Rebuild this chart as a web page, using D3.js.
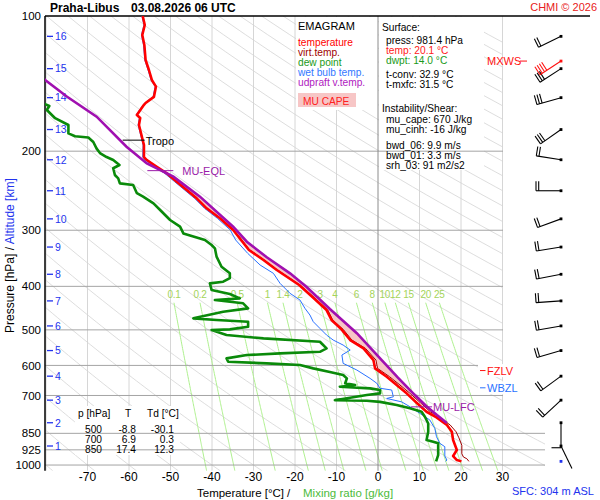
<!DOCTYPE html>
<html><head><meta charset="utf-8">
<script src="https://cdn.jsdelivr.net/npm/d3@7"></script>
<style>body{margin:0;background:#fff;} svg{font-family:"Liberation Sans",Arial,sans-serif;}</style>
</head><body><svg id="c" width="600" height="500"></svg>
<script>
// ---------------- DATA ----------------
const tempProfile = [[100,-56.7],[104.7,-56.2],[110.2,-56.8],[116,-56.3],[125.3,-56.0],[131.9,-55.2],[138.8,-54.5],[143.6,-53.5],[151.4,-54.0],[156.2,-56.0],[158.6,-56.6],[166.1,-58.1],[168.7,-57.3],[174.9,-57.6],[179.4,-57.3],[188.9,-56.7],[193.8,-56.4],[206.1,-56.4],[209.3,-55.7],[216.6,-53.3],[224.1,-50.9],[233.9,-48.5],[244.1,-46.1],[254.7,-43.7],[268.1,-41.3],[282.2,-38.1],[299.6,-34.9],[315.4,-33.0],[332.0,-31.1],[349.5,-27.6],[367.9,-24.4],[397.3,-19.0],[424.1,-15.6],[451.7,-12.4],[475.4,-11.2],[498.7,-8.8],[526.8,-6.7],[550.0,-3.5],[583.7,-1.1],[609.2,-0.7],[635.9,2.1],[663.5,4.5],[692.4,6.9],[726.5,9.3],[760.9,11.7],[783.3,14.1],[814.6,16.6],[843.0,17.8],[879.8,18.1],[925.9,19.0],[955.0,18.1],[974.6,19.0],[981.4,20.1]];
const virtProfile = [[206.1,-56.4],[209.3,-55.7],[216.6,-53.3],[224.1,-50.9],[233.9,-48.5],[244.1,-46.1],[254.7,-43.6],[268.1,-41.2],[282.2,-38.0],[299.6,-34.8],[315.4,-32.8],[332.0,-30.9],[349.5,-27.4],[367.9,-24.2],[397.3,-18.8],[424.1,-15.3],[451.7,-12.1],[475.4,-10.9],[498.7,-8.4],[526.8,-6.3],[550.0,-3.0],[583.7,-0.5],[609.2,-0.1],[635.9,2.8],[663.5,5.3],[692.4,7.7],[726.5,10.2],[760.9,12.6],[783.3,14.9],[814.6,17.4],[843.0,18.8],[870,19.5],[904,20.2],[944,20.2],[960,20.6],[968,21.4],[981.4,21.9]];
const dewProfile = [[150,-84],[157.1,-80.2],[158.6,-79.2],[161.9,-79.8],[168.9,-77.8],[174.9,-74.6],[182.6,-74.6],[185.2,-73.0],[186.4,-69.8],[190.8,-68.6],[197.4,-67.8],[201.9,-67.0],[206.1,-65.4],[209.3,-63.8],[214.7,-62.3],[218.3,-63.8],[226.0,-63.4],[229.9,-62.6],[235.9,-62.2],[237.9,-59.0],[248.1,-58.1],[252.5,-56.6],[261.3,-54.1],[270.4,-52.5],[284.7,-50.1],[294.6,-47.7],[304.9,-46.9],[313.0,-42.9],[315.4,-41.7],[323.6,-40.1],[329.1,-39.3],[343.4,-38.9],[361.7,-37.7],[374.2,-35.7],[383.3,-35.7],[390.6,-37.3],[393.9,-40.5],[407.6,-40.1],[416.1,-35.7],[425.4,-33.3],[429.1,-39.3],[436.4,-32.5],[447.8,-31.3],[455.6,-37.3],[471.3,-44.5],[475.4,-38.9],[479.5,-31.3],[492.1,-31.3],[498.7,-35.7],[500.4,-40.1],[513.4,-36.5],[522.3,-27.6],[531.4,-14.0],[550.0,-12.4],[559.5,-14.0],[564.2,-23.6],[568.9,-31.6],[578.7,-36.5],[588.8,-36.1],[593.7,-26.8],[598.8,-18.8],[609.2,-15.6],[620.7,-11.6],[630.3,-8.4],[641.3,-7.5],[657.5,-7.9],[663.5,-5.5],[669.2,-9.2],[674.9,-1.9],[680.7,0.5],[692.4,0.5],[698.4,-2.7],[717,-10.4],[719.1,-2.7],[723.3,0.5],[735.2,4.5],[747.8,7.7],[760.9,10.5],[780.5,11.3],[808.2,12.1],[843.0,12.1],[879.8,11.7],[887.4,13.3],[894.6,14.5],[925.9,14.5],[950.0,14.5],[981.4,14.0]];
const wetProfile = [[100,-56.9],[104.7,-56.4],[110.2,-57.0],[116,-56.5],[125.3,-56.2],[131.9,-55.4],[138.8,-54.7],[143.6,-53.7],[151.4,-54.2],[156.2,-56.2],[158.6,-56.8],[166.1,-58.3],[168.7,-57.5],[174.9,-57.8],[179.4,-57.5],[188.9,-56.9],[193.8,-56.6],[206.1,-56.7],[209.3,-56.1],[216.6,-53.8],[224.1,-51.4],[233.9,-49.0],[244.1,-46.6],[254.7,-44.2],[268.1,-41.8],[282.2,-38.7],[299.6,-35.6],[315.4,-34.3],[337.7,-31.4],[358.6,-28.4],[374.2,-25.2],[393.9,-23.6],[414.6,-21.2],[429.1,-18.8],[447.8,-17.6],[463.4,-16.4],[479.5,-15.6],[496.2,-14.0],[513.4,-12.4],[526.8,-10.8],[540.5,-8.4],[554.5,-6.7],[568.9,-8.7],[593.7,-8.4],[614.4,-5.1],[641.3,-1.9],[657.5,-0.3],[674.6,0.5],[680.7,3.3],[704.8,3.7],[710.8,2.1],[723.3,5.7],[741.6,7.7],[767.2,10.1],[794.0,12.5],[829.0,13.7],[864.8,14.1],[894.6,14.9],[910.3,16.1],[955,16.1],[974.6,16.6],[981.4,16.3]];
const parcelProfile = [[120,-88],[138.8,-80.2],[151.1,-75.0],[167.6,-67.8],[195.5,-60.6],[213.0,-55.7],[227.9,-49.3],[252.5,-42.9],[294.6,-34.9],[318.2,-31.6],[344.6,-26.8],[374.2,-21.2],[401.4,-17.2],[449.4,-11.6],[508.6,-5.1],[578.7,0.5],[638.8,4.8],[700.2,9.0],[741.6,11.8],[773.9,14.2],[806,16.6]];

const eqlP = 221, lfcP = 742, tropoP = 189, tropoT = -56.7, fzlvP = 616, wbzlP = 673, sfcP = 981.4;
const pressureTicks = [100,200,300,400,500,600,700,850,925,1000];
const isobarLevels = [200,300,400,500,600,700,850,925,1000];
const longIsobars = [850,925,1000];
const tempTicks = [-70,-60,-50,-40,-30,-20,-10,0,10,20,30];
const isotherms = [-80,-70,-60,-50,-40,-30,-20,-10,10,20,30];
const mixRatios = [0.1,0.2,0.5,1,1.4,2,3,4,6,8,10,12,15,20,25];
const mixLabels = ["0.1","0.2","0.5","1","1.4","2","3","4","6","8","10","12","15","20","25"];
const altKm = [1,2,3,4,5,6,7,8,9,10,11,12,13,14,15,16];
const altP = [907,805,717,634,556,490,431,376,327,283,245,209,179,152,131,111];
const windDir = [154,180,227,234,254,260,266,259,261,250,270,279,235,254,237,244];
const windSpd = [3,10,20,20,20,20,20,20,20,20,20,20,30,30,30,20];
const mxwsP = 126, mxwsDir = 237, mxwsSpd = 40;
const tableP = ["500","700","850"];
const tableT = ["-8.8","6.9","17.4"];
const tableTd = ["-30.1","0.3","12.3"];
const legendItems = [["temperature","#ff0000"],["virt.temp.","#a00000"],["dew point","#1a9a1a"],["wet bulb temp.","#3377ff"],["udpraft v.temp.","#b020c0"]];
const surfLines = [["press: 981.4 hPa","#000"],["temp: 20.1 °C","#ff2020"],["dwpt: 14.0 °C","#1a9a1a"]];
const convLines = ["t-conv: 32.9 °C","t-mxfc: 31.5 °C"];
const instLines = ["mu_cape: 670 J/kg","mu_cinh: -16 J/kg"];
const shearLines = ["bwd_06: 9.9 m/s","bwd_01: 3.3 m/s","srh_03: 91 m2/s2"];

// ---------------- SCALES ----------------
const svg = d3.select('#c');
const x = d3.scaleLinear().domain([-80, 30]).range([46, 502.5]);
const y = d3.scaleLog().domain([100, 1030]).range([16, 470.8]);
const L = 45, T0 = 16, R = 503, B = y(1030);
const blue = "#2233ee";
const fs = 10.2;

const defs = svg.append('defs');
defs.append('clipPath').attr('id','bg').append('path')
  .attr('d', `M${L},${T0}H${R}V425H545V${B}H${L}Z`);
defs.append('clipPath').attr('id','pl').append('rect')
  .attr('x',L).attr('y',T0).attr('width',R-L).attr('height',B-T0);

const line = d3.line().x(d=>x(d[1])).y(d=>y(d[0]));
const bg = svg.append('g').attr('clip-path','url(#bg)');

// isotherms
bg.selectAll('.iso').data(isotherms).enter().append('line')
  .attr('x1',d=>x(d)).attr('x2',d=>x(d)).attr('y1',T0).attr('y2',B)
  .attr('stroke','#d6d6d6').attr('stroke-width',1);
// dry adiabats
const pLev = d3.range(100, 1031, 10);
d3.range(-80, 300, 10).forEach(th => {
  const pts = pLev.map(p => [p, (th+273.15)*Math.pow(p/1000,0.2857)-273.15]);
  bg.append('path').attr('d', line(pts)).attr('fill','none').attr('stroke','#d4d4d4').attr('stroke-width',0.8);
});
// mixing ratio
function tdFromW(w, p){ const e = w*p/(622+w); const l = Math.log(e/6.112); return 243.5*l/(17.67-l); }
const mixP = d3.range(435, 1031, 5);
mixRatios.forEach((w,i) => {
  bg.append('path').attr('d', line(mixP.map(p=>[p, tdFromW(w,p)])))
    .attr('fill','none').attr('stroke','#aef08e').attr('stroke-width',1);
  svg.append('text').attr('x', x(tdFromW(w,435))).attr('y', 298).attr('text-anchor','middle')
    .attr('font-size',10).attr('letter-spacing',-0.3).attr('fill','#a4d45a').text(mixLabels[i]);
});

// white boxes
svg.append('rect').attr('x',296).attr('y',17).attr('width',82).attr('height',93).attr('fill','#fff');
svg.append('rect').attr('x',379).attr('y',17).attr('width',105).attr('height',153).attr('fill','#fff');
svg.append('rect').attr('x',75).attr('y',406).attr('width',105).attr('height',49).attr('fill','#fff');

// isobars
svg.selectAll('.ib').data(isobarLevels).enter().append('line')
  .attr('x1',L).attr('x2',d=>longIsobars.includes(d)?545:R).attr('y1',d=>y(d)).attr('y2',d=>y(d))
  .attr('stroke','#a4a4a4').attr('stroke-width',1);
// 0 C isotherm
svg.append('line').attr('x1',x(0)).attr('x2',x(0)).attr('y1',T0).attr('y2',B).attr('stroke','#8c8c8c').attr('stroke-width',1);

// axes frame
svg.append('line').attr('x1',L).attr('x2',590).attr('y1',T0).attr('y2',T0).attr('stroke','#000').attr('stroke-width',1.5);
svg.append('line').attr('x1',L).attr('x2',L).attr('y1',T0).attr('y2',B).attr('stroke','#000').attr('stroke-width',1.5);

// pressure labels
svg.selectAll('.pl').data(pressureTicks).enter().append('text')
  .attr('x',41).attr('y',d=>y(d)).attr('dy','0.36em').attr('text-anchor','end')
  .attr('font-size',11.5).text(d=>d);
// altitude ticks
altKm.forEach((k,i)=>{
  svg.append('line').attr('x1',47).attr('x2',53).attr('y1',y(altP[i])).attr('y2',y(altP[i])).attr('stroke',blue).attr('stroke-width',1.3);
  svg.append('text').attr('x',55).attr('y',y(altP[i])).attr('dy','0.36em').attr('font-size',10.5).attr('fill',blue).text(k);
});
// temperature ticks
svg.selectAll('.tl').data(tempTicks).enter().append('text')
  .attr('x',d=>x(d)).attr('y',481).attr('text-anchor','middle').attr('font-size',12).text(d=>d);

// ---------------- PROFILES ----------------
const pg = svg.append('g').attr('clip-path','url(#pl)');
function interp(prof, p){
  for(let i=0;i<prof.length-1;i++){
    const a=prof[i], b=prof[i+1];
    if(p>=a[0] && p<=b[0]){ const t=(Math.log(p)-Math.log(a[0]))/(Math.log(b[0])-Math.log(a[0])); return a[1]+t*(b[1]-a[1]); }
  }
  return null;
}
const capeP = Array.from(new Set([eqlP, lfcP, ...parcelProfile.map(d=>d[0]), ...virtProfile.map(d=>d[0])]))
  .filter(p=>p>=eqlP && p<=lfcP).sort((a,b)=>a-b);
const capeData = capeP.map(p=>{ const tv=interp(virtProfile,p), tp=interp(parcelProfile,p); return [p, tv, Math.max(tv,tp)]; });
pg.append('path').attr('d', d3.area().y(d=>y(d[0])).x0(d=>x(d[1])).x1(d=>x(d[2]))(capeData))
  .attr('fill','#f7c6c6').attr('stroke','none');

pg.append('path').attr('d',line(wetProfile)).attr('fill','none').attr('stroke','#2a72ff').attr('stroke-width',1);
pg.append('path').attr('d',line(dewProfile)).attr('fill','none').attr('stroke','#0a8a0a').attr('stroke-width',2.6).attr('stroke-linejoin','round');
pg.append('path').attr('d',line(virtProfile)).attr('fill','none').attr('stroke','#a00000').attr('stroke-width',1);
pg.append('path').attr('d',line(tempProfile)).attr('fill','none').attr('stroke','#ff0000').attr('stroke-width',2.6).attr('stroke-linejoin','round');
pg.append('path').attr('d',line(parcelProfile)).attr('fill','none').attr('stroke','#a010b0').attr('stroke-width',2.6);

// markers
const tx = x(tropoT), ty = y(tropoP);
svg.append('line').attr('x1',tx-20).attr('x2',tx+2).attr('y1',ty).attr('y2',ty).attr('stroke','#000');
svg.append('text').attr('x',tx+3).attr('y',ty).attr('dy','0.4em').attr('font-size',11).text('Tropo');
const ex = x(interp(parcelProfile,eqlP)), ey = y(eqlP);
svg.append('line').attr('x1',ex-14).attr('x2',ex+12).attr('y1',ey).attr('y2',ey).attr('stroke','#9a1aa8');
svg.append('text').attr('x',ex+21).attr('y',ey).attr('dy','0.36em').attr('font-size',11).attr('fill','#9a1aa8').text('MU-EQL');
const lx = x(interp(parcelProfile,lfcP)), ly = y(lfcP);
svg.append('line').attr('x1',lx-16).attr('x2',lx+5).attr('y1',ly).attr('y2',ly).attr('stroke','#9a1aa8');
svg.append('text').attr('x',lx+6).attr('y',ly).attr('dy','0.36em').attr('font-size',11).attr('fill','#9a1aa8').text('MU-LFC');

// FZLV / WBZL
[[fzlvP,'FZLV','#ff1010'],[wbzlP,'WBZL','#2a72ff']].forEach(([p,t,c])=>{
  const yy=y(p);
  svg.append('rect').attr('x',478).attr('y',yy-6.5).attr('width',45).attr('height',13).attr('fill','#fff');
  svg.append('line').attr('x1',480).attr('x2',485.5).attr('y1',yy).attr('y2',yy).attr('stroke',c);
  svg.append('text').attr('x',487).attr('y',yy).attr('dy','0.36em').attr('font-size',11).attr('fill',c).text(t);
});

// ---------------- WIND BARBS ----------------
const bx0 = 561;
function barb(p, dir, spd, color){
  const g = svg.append('g');
  const py = y(p), r = dir*Math.PI/180;
  const ux=Math.sin(r), uy=-Math.cos(r), vx=Math.cos(r), vy=Math.sin(r);
  const Ls=25, bl=9.5, sp=2.7;
  const exx = bx0+Ls*ux, eyy = py+Ls*uy;
  g.append('line').attr('x1',bx0).attr('y1',py).attr('x2',exx).attr('y2',eyy).attr('stroke',color).attr('stroke-width',1.1);
  let n10 = Math.floor(spd/10), n5 = Math.floor((spd - n10*10)/5);
  let k=0;
  for(let i=0;i<n10;i++,k++){
    const sx=exx-k*sp*ux, sy=eyy-k*sp*uy;
    g.append('line').attr('x1',sx).attr('y1',sy).attr('x2',sx+bl*vx).attr('y2',sy+bl*vy).attr('stroke',color).attr('stroke-width',1.1);
  }
  for(let i=0;i<n5;i++,k++){
    const sx=exx-k*sp*ux, sy=eyy-k*sp*uy;
    g.append('line').attr('x1',sx).attr('y1',sy).attr('x2',sx+bl/2*vx).attr('y2',sy+bl/2*vy).attr('stroke',color).attr('stroke-width',1.1);
  }
  g.append('rect').attr('x',bx0-1.4).attr('y',py-1.4).attr('width',2.8).attr('height',2.8).attr('fill',color);
}
altP.forEach((p,i)=>barb(p, windDir[i], windSpd[i], '#000'));
barb(mxwsP, mxwsDir, mxwsSpd, '#ff1010');
svg.append('rect').attr('x',bx0-1.4).attr('y',y(sfcP)-1.4).attr('width',2.8).attr('height',2.8).attr('fill','#2233ee');
svg.append('text').attr('x',487).attr('y',y(mxwsP)).attr('dy','0.36em').attr('font-size',11).attr('fill','#ff1010').text('MXWS');
svg.append('line').attr('x1',520).attr('x2',527).attr('y1',y(mxwsP)).attr('y2',y(mxwsP)).attr('stroke','#ff1010');

// ---------------- TEXTS ----------------
svg.append('text').attr('x',50).attr('y',12).attr('font-size',12).attr('font-weight','bold').text('Praha-Libus');
svg.append('text').attr('x',131).attr('y',12).attr('font-size',12).attr('font-weight','bold').text('03.08.2026 06 UTC');
svg.append('text').attr('x',597).attr('y',11).attr('text-anchor','end').attr('font-size',11).attr('fill','#e82020').text('CHMI © 2026');

// legend
svg.append('text').attr('x',298).attr('y',30).attr('font-size',11).text('EMAGRAM');
legendItems.forEach((d,i)=> svg.append('text').attr('x',298).attr('y',46+i*10).attr('font-size',fs).attr('fill',d[1]).text(d[0]));
svg.append('rect').attr('x',298).attr('y',93).attr('width',58).attr('height',14).attr('fill','#f7c6c6');
svg.append('text').attr('x',303).attr('y',104.5).attr('font-size',fs).attr('fill','#ff2020').text('MU CAPE');

// surface info
svg.append('text').attr('x',382).attr('y',31).attr('font-size',fs).text('Surface:');
surfLines.forEach((d,i)=> svg.append('text').attr('x',386).attr('y',44+i*10).attr('font-size',fs).attr('fill',d[1]).text(d[0]));
convLines.forEach((d,i)=> svg.append('text').attr('x',386).attr('y',78+i*10).attr('font-size',fs).text(d));
svg.append('text').attr('x',382).attr('y',112).attr('font-size',fs).text('Instability/Shear:');
instLines.forEach((d,i)=> svg.append('text').attr('x',386).attr('y',123+i*10).attr('font-size',fs).text(d));
shearLines.forEach((d,i)=> svg.append('text').attr('x',386).attr('y',149+i*10).attr('font-size',fs).text(d));

// table
svg.append('text').attr('x',78).attr('y',417).attr('font-size',fs).text('p [hPa]');
svg.append('text').attr('x',125).attr('y',417).attr('font-size',fs).text('T');
svg.append('text').attr('x',147).attr('y',417).attr('font-size',fs).text('Td [°C]');
tableP.forEach((d,i)=>{
  const yy = 433+i*10;
  svg.append('text').attr('x',102).attr('y',yy).attr('text-anchor','end').attr('font-size',fs).text(d);
  svg.append('text').attr('x',136).attr('y',yy).attr('text-anchor','end').attr('font-size',fs).text(tableT[i]);
  svg.append('text').attr('x',174).attr('y',yy).attr('text-anchor','end').attr('font-size',fs).text(tableTd[i]);
});

// axis titles
const yt = svg.append('text').attr('transform','translate(14,333) rotate(-90)').attr('font-size',12);
yt.append('tspan').text('Pressure [hPa]');
yt.append('tspan').text('  /  ');
yt.append('tspan').attr('fill',blue).text('Altitude [km]');
svg.append('text').attr('x',197).attr('y',497).attr('font-size',11.5).text('Temperature [°C]');
svg.append('text').attr('x',287).attr('y',497).attr('font-size',11.5).text('/');
svg.append('text').attr('x',303).attr('y',497).attr('font-size',11.5).attr('fill','#4cbb3c').text('Mixing ratio [g/kg]');
svg.append('text').attr('x',512).attr('y',495).attr('font-size',11).attr('fill',blue).text('SFC: 304 m ASL');
</script></body></html>
